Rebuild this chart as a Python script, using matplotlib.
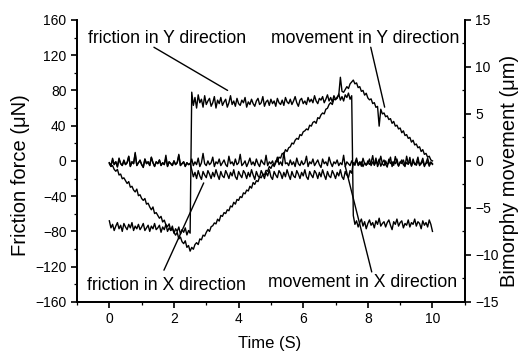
import numpy as np
import matplotlib
matplotlib.use("Agg")
import matplotlib.pyplot as plt

plt.rcParams['font.family'] = ['Liberation Sans', 'DejaVu Sans']

# sampling grid, 0.05 s steps over 10 s
time_s = np.linspace(0, 10, 201)

# friction in Y direction (uN)
friction_y = [
    -68, -76, -72, -79, -74, -70, -77, -73, -80, -71,
    -75, -78, -72, -76, -70, -79, -74, -77, -72, -78,
    -75, -71, -79, -76, -73, -80, -74, -77, -71, -78,
    -76, -73, -81, -75, -78, -72, -80, -76, -79, -74,
    -82, -77, -80, -75, -83, -78, -81, -76, -84, -79,
    -82,
    78, 63, 72, 60, 75, 66, 70, 61, 74, 64,
    68, 71, 62, 66, 73, 60, 69, 65, 72, 63,
    67, 70, 61, 66, 74, 64, 68, 62, 71, 65,
    63, 69, 66, 72, 61, 67, 64, 70, 65, 62,
    68, 71, 64, 66, 73, 62, 67, 69, 63, 70,
    65, 68, 62, 71, 66, 64, 69, 63, 72, 67,
    65, 70, 64, 68, 73, 66, 62, 69, 71, 65,
    68, 64, 72, 67, 70, 66, 74, 68, 65, 71,
    69, 73, 66, 70, 75, 68, 72, 67, 74, 70,
    71, 76, 69, 73, 68, 75, 72, 77, 70, 74,
    -62, -72, -68, -75, -70, -66, -74, -69, -77, -71,
    -67, -73, -70, -76, -68, -72, -65, -74, -71, -69,
    -75, -70, -67, -73, -78, -69, -72, -66, -74, -70,
    -68, -76, -71, -73, -67, -75, -70, -72, -66, -74,
    -69, -71, -77, -68, -73, -70, -75, -67, -72, -80,
]

# friction in X direction (uN)
friction_x = [
    -2, -6, 3, -4, -1, -7, 2, -3, -5, 1,
    -4, -2, 5, -6, -1, -3, 8, -5, -2, 0,
    -4, -7, 2, -3, -1, -5, 4, -2, -6, -1,
    -3, 1, -5, -2, -4, 3, -6, -1, -3, -5,
    0, -4, -2, 6, -5, -3, -1, -6, -2, -4,
    -3,
    -10, -18, -13, -20, -11, -17, -21, -12, -16, -19,
    -11, -15, -20, -13, -18, -10, -16, -21, -12, -17,
    -19, -11, -15, -20, -13, -17, -10, -18, -21, -12,
    -16, -19, -11, -14, -20, -13, -18, -10, -16, -21,
    -12, -17, -19, -11, -15, -20, -13, -17, -10, -18,
    -21, -12, -16, -19, -11, -14, -20, -13, -18, -10,
    -16, -21, -12, -17, -19, -11, -15, -20, -13, -17,
    -10, -18, -21, -12, -16, -19, -11, -14, -20, -13,
    -18, -10, -16, -21, -12, -17, -19, -11, -15, -20,
    -13, -17, -10, -18, -21, -12, -16, -19, -11, -14,
    -2, -5, 1, -4, -1, -6, 3, -3, -5, 0,
    -4, -2, 6, -5, -1, -3, 2, -6, -2, 1,
    -4, -7, 2, -3, -1, -5, 5, -2, -6, -1,
    -3, 1, -5, -2, -4, 4, -6, -1, -3, -5,
    0, -4, -2, 3, -5, -3, -1, -6, -2, -4,
]

# bimorph movement in Y direction (um)
movement_y = [
    -0.3, -0.6, -0.5, -0.9, -1.1, -0.9, -1.5, -1.4, -1.9, -1.8,
    -2.1, -2.4, -2.2, -2.8, -2.7, -3.1, -3.3, -3.0, -3.7, -3.6,
    -4.0, -4.2, -4.0, -4.6, -4.5, -4.9, -5.2, -4.9, -5.6, -5.5,
    -5.8, -6.1, -5.9, -6.5, -6.3, -6.8, -7.0, -6.7, -7.4, -7.2,
    -7.6, -7.9, -7.6, -8.3, -8.1, -8.6, -8.8, -8.5, -9.2, -9.0,
    -9.6,
    -9.2, -9.4, -8.9, -8.7, -8.9, -8.3, -8.4, -7.9, -8.0, -7.6,
    -7.3, -7.5, -7.0, -6.9, -6.6, -6.7, -6.2, -6.4, -5.8, -5.9,
    -5.5, -5.6, -5.2, -5.3, -4.8, -4.9, -4.4, -4.6, -4.1, -4.2,
    -3.8, -3.9, -3.4, -3.5, -3.1, -3.2, -2.7, -2.9, -2.3, -2.5,
    -2.1, -2.2, -1.7, -1.8, -1.4, -1.5, -1.0, -1.1, -0.6, -0.8,
    -0.4, -0.5, 0.0, -0.1, 0.4, 0.3, 0.8, 0.7, 1.2, 1.0,
    1.4, 1.5, 1.9, 1.8, 2.2, 2.4, 2.3, 2.8, 2.7, 3.1,
    3.2, 3.4, 3.3, 3.8, 3.7, 4.1, 4.2, 4.0, 4.6, 4.5,
    4.9, 5.1, 5.0, 5.5, 5.6, 6.0, 6.2, 6.0, 6.6, 6.5,
    6.8, 7.0, 8.9, 7.4, 7.3, 7.6, 7.9, 7.7, 8.2, 8.4,
    8.6, 8.2, 8.3, 7.8, 7.9, 7.4, 7.5, 7.0, 7.2, 6.7,
    6.5, 6.6, 6.1, 6.2, 5.7, 5.8, 3.7, 5.5, 5.0, 5.1,
    4.7, 4.8, 4.4, 4.5, 4.0, 4.2, 3.7, 3.8, 3.4, 3.5,
    3.0, 3.2, 2.7, 2.8, 2.4, 2.5, 2.0, 2.2, 1.7, 1.8,
    1.4, 1.5, 1.0, 1.2, 0.7, 0.8, 0.4, 0.5, 0.1, 0.0,
]

# bimorph movement in X direction (um)
movement_x = [
    -0.2, -0.5, 0.1, -0.4, -0.1, -0.6, 0.3, -0.3, -0.5, 0.0,
    -0.4, -0.2, 0.5, -0.6, -0.1, -0.3, 0.9, -0.5, -0.2, 0.1,
    -0.4, -0.7, 0.2, -0.3, -0.1, -0.5, 0.4, -0.2, -0.6, -0.1,
    -0.3, 0.1, -0.5, -0.2, -0.4, 0.6, -0.6, -0.1, -0.3, -0.5,
    0.0, -0.4, -0.2, 0.7, -0.5, -0.3, -0.1, -0.6, -0.2, -0.4,
    -0.3, 0.2, -0.5, -0.1, -0.4, 0.3, -0.6, -0.2, 0.8, -0.3,
    -0.5, 0.0, -0.4, -0.2, 0.4, -0.6, -0.1, -0.3, 0.2, -0.5,
    -0.2, 0.1, -0.4, -0.6, 0.5, -0.3, -0.1, -0.5, 0.2, -0.4,
    -0.2, 0.7, -0.5, -0.3, 0.0, -0.6, -0.2, 0.3, -0.4, -0.1,
    -0.5, 0.2, -0.3, -0.6, 0.1, -0.2, -0.4, 0.6, -0.5, -0.1,
    -0.3, 0.0, -0.6, -0.2, 0.4, -0.4, -0.1, -0.5, 0.9, -0.3,
    -0.2, -0.5, 0.1, -0.4, -0.1, -0.6, 0.3, -0.3, -0.5, 0.0,
    -0.4, -0.2, 0.5, -0.6, -0.1, -0.3, 0.2, -0.5, -0.2, 0.1,
    -0.4, -0.7, 0.2, -0.3, -0.1, -0.5, 0.4, -0.2, -0.6, -0.1,
    -0.3, 0.1, -0.5, -0.2, -0.4, 0.6, -0.6, -0.1, -0.3, -0.5,
    0.0, -0.4, -0.2, 0.3, -0.5, -0.3, -0.1, -0.6, -0.2, -0.4,
    -0.3, 0.2, -0.5, -0.1, -0.4, 0.3, -0.6, -0.2, 0.5, -0.3,
    -0.5, 0.0, -0.4, -0.2, 0.4, -0.6, -0.1, -0.3, 0.2, -0.5,
    -0.2, 0.1, -0.4, -0.6, 0.5, -0.3, -0.1, -0.5, 0.2, -0.4,
    -0.2, 0.4, -0.5, -0.3, 0.0, -0.6, -0.2, 0.3, -0.4, -0.1,
    -0.3,
]

force_ticks = [-160, -120, -80, -40, 0, 40, 80, 120, 160]
move_ticks = [-15, -10, -5, 0, 5, 10, 15]
time_ticks = [0, 2, 4, 6, 8, 10]

fig = plt.figure(figsize=(5.24, 3.56), dpi=100)
ax = fig.add_axes([0.147, 0.152, 0.740, 0.792])
ax2 = ax.twinx()

lw = 1.0
ax.plot(time_s, friction_y, color='black', lw=lw)
ax.plot(time_s, friction_x, color='black', lw=lw)
ax2.plot(time_s, movement_y, color='black', lw=lw)
ax2.plot(time_s, movement_x, color='black', lw=lw)

ax.set_xlim(-1, 11)
ax.set_ylim(-160, 160)
ax2.set_ylim(-15, 15)
ax.set_xticks(time_ticks)
ax.set_xticks(np.arange(-1, 12, 1), minor=True)
ax.set_yticks(force_ticks)
ax.set_yticks(np.arange(-160, 161, 20), minor=True)
ax2.set_yticks(move_ticks)
ax2.set_yticks(np.arange(-15, 15.1, 2.5), minor=True)

for a in (ax, ax2):
    a.spines['top'].set_visible(False)
    for s in a.spines.values():
        s.set_linewidth(1.3)
ax.tick_params(which='major', direction='out', length=4, width=1.2, labelsize=10)
ax.tick_params(which='minor', direction='out', length=2, width=0.9)
ax2.tick_params(which='major', direction='out', length=4, width=1.2, labelsize=10)
ax2.tick_params(which='minor', direction='in', length=2, width=0.9)

fig.text(0.040, 0.508, 'Friction force (\u03bcN)', rotation=90,
         ha='center', va='center', fontsize=14.5)
fig.text(0.973, 0.52, 'Bimorphy movement (\u03bcm)', rotation=90,
         ha='center', va='center', fontsize=14.5)
fig.text(0.515, 0.035, 'Time (S)', ha='center', va='center', fontsize=12)

note = dict(fontsize=12.7, va='center', ha='left')
arrow = dict(arrowstyle='-', color='black', lw=1.0, shrinkA=0, shrinkB=0)
ax.text(-0.65, 139, 'friction in Y direction', **note)
ax.annotate('', xy=(3.66, 80), xytext=(1.38, 129), arrowprops=arrow)
ax.text(5.0, 139, 'movement in Y direction', **note)
ax.annotate('', xy=(8.52, 61), xytext=(8.09, 129), arrowprops=arrow)
ax.text(-0.68, -141, 'friction in X direction', **note)
ax.annotate('', xy=(2.92, -25), xytext=(1.69, -124), arrowprops=arrow)
ax.text(4.9, -138, 'movement in X direction', **note)
ax.annotate('', xy=(7.3, -6), xytext=(8.12, -126), arrowprops=arrow)

fig.savefig('out.png', dpi=100)
